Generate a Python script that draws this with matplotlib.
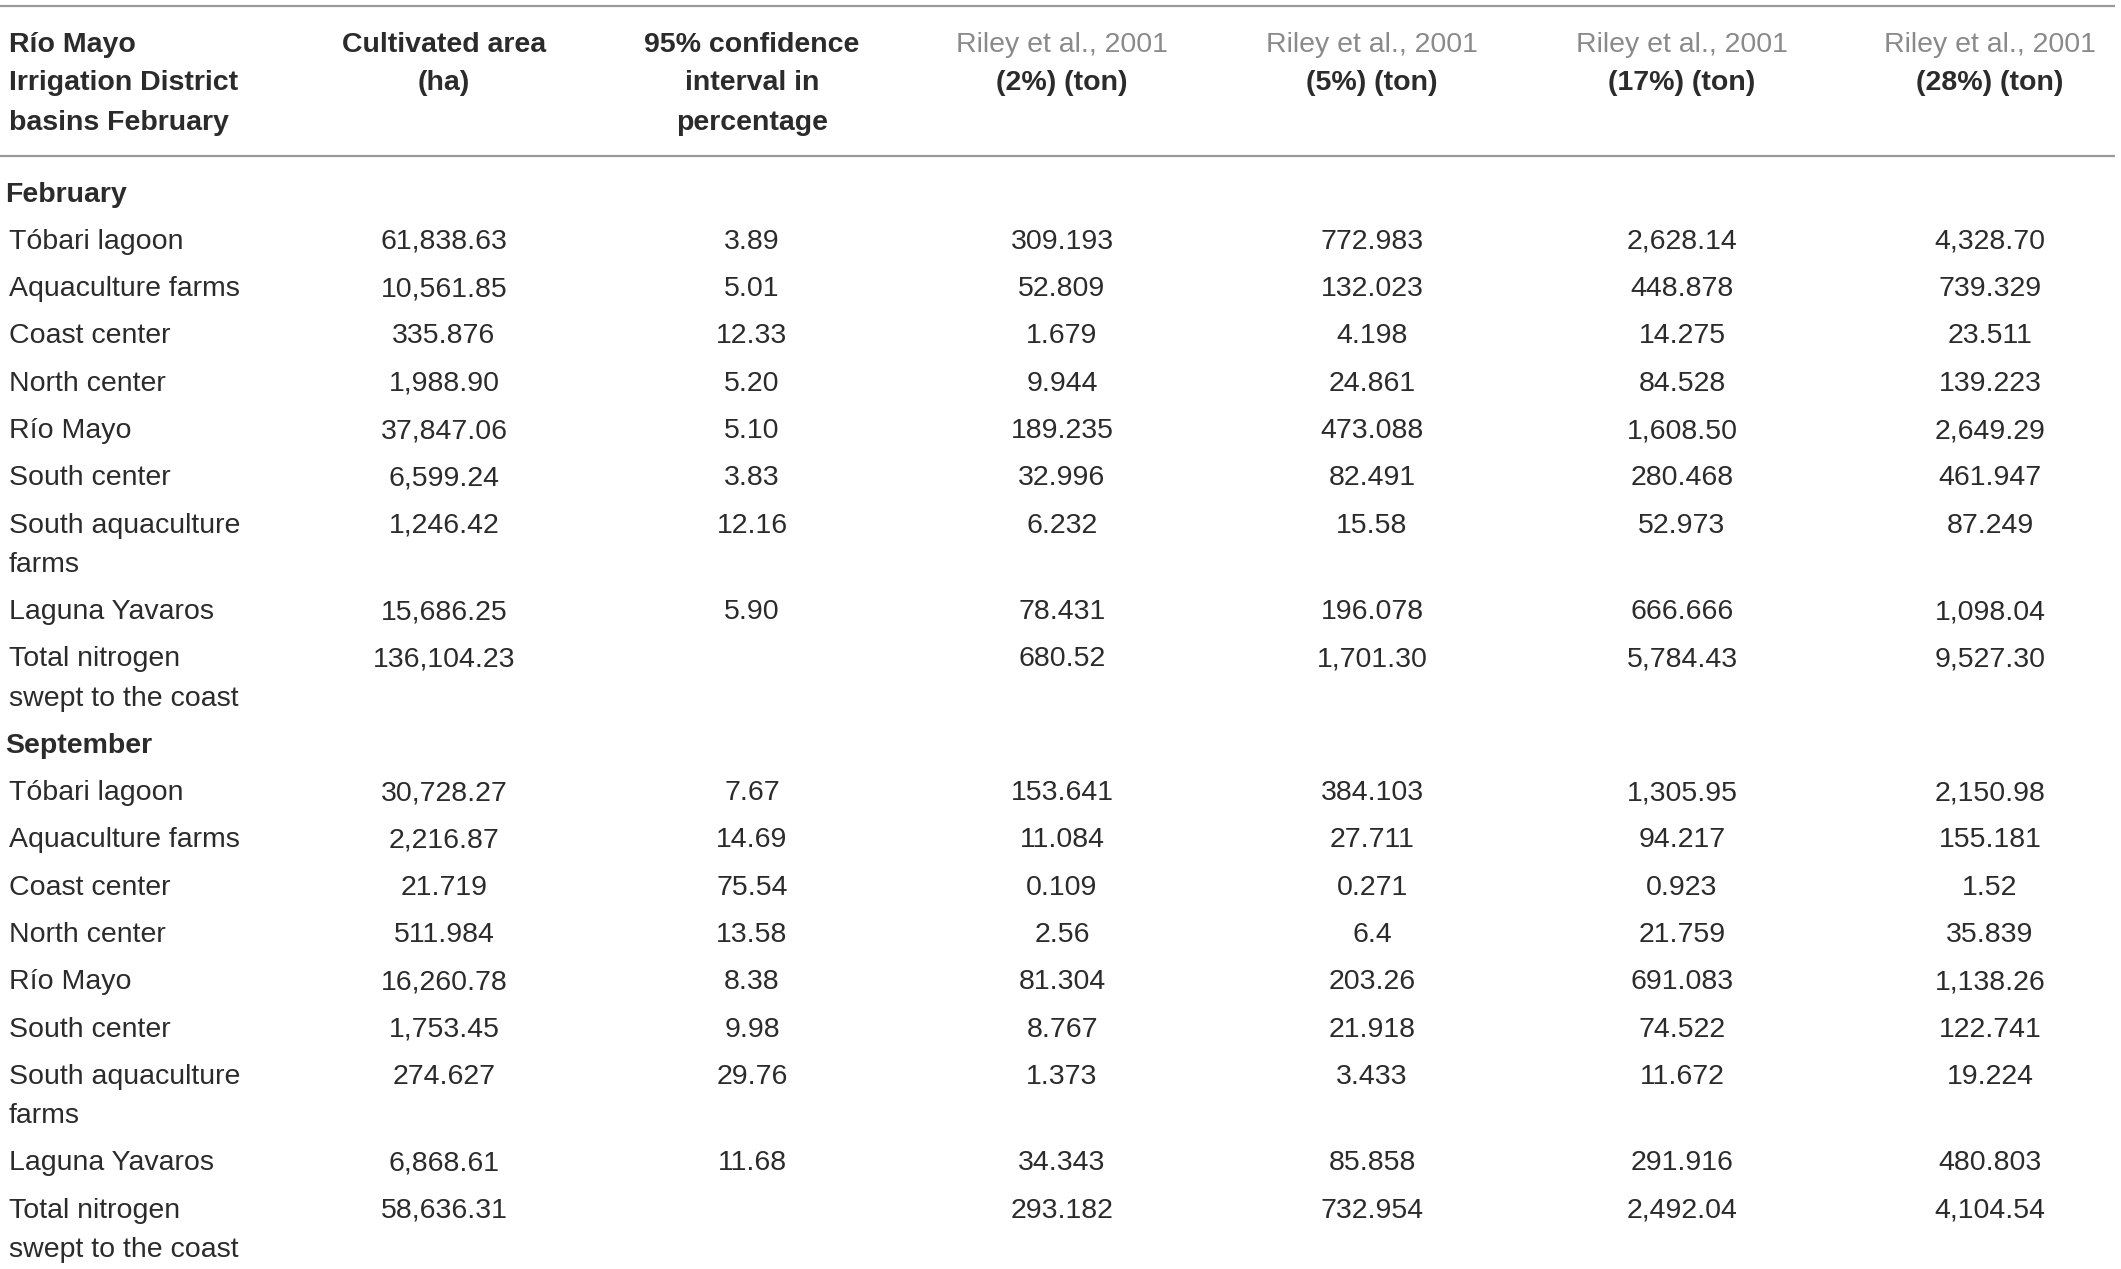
import matplotlib
matplotlib.use("Agg")
import matplotlib.pyplot as plt

# ---------------- data ----------------
header_col0 = ["Río Mayo", "Irrigation District", "basins February"]
header_col1 = ["Cultivated area", "(ha)"]
header_col2 = ["95% confidence", "interval in", "percentage"]
riley_ref = "Riley et al., 2001"
riley_pcts = ["(2%) (ton)", "(5%) (ton)", "(17%) (ton)", "(28%) (ton)"]

sections = ["February", "September"]
row_labels = [
    ["Tóbari lagoon"], ["Aquaculture farms"], ["Coast center"], ["North center"],
    ["Río Mayo"], ["South center"], ["South aquaculture", "farms"],
    ["Laguna Yavaros"], ["Total nitrogen", "swept to the coast"],
]

area_feb = ["61,838.63", "10,561.85", "335.876", "1,988.90", "37,847.06", "6,599.24", "1,246.42", "15,686.25", "136,104.23"]
ci_feb = ["3.89", "5.01", "12.33", "5.20", "5.10", "3.83", "12.16", "5.90", ""]
r2_feb = ["309.193", "52.809", "1.679", "9.944", "189.235", "32.996", "6.232", "78.431", "680.52"]
r5_feb = ["772.983", "132.023", "4.198", "24.861", "473.088", "82.491", "15.58", "196.078", "1,701.30"]
r17_feb = ["2,628.14", "448.878", "14.275", "84.528", "1,608.50", "280.468", "52.973", "666.666", "5,784.43"]
r28_feb = ["4,328.70", "739.329", "23.511", "139.223", "2,649.29", "461.947", "87.249", "1,098.04", "9,527.30"]

area_sep = ["30,728.27", "2,216.87", "21.719", "511.984", "16,260.78", "1,753.45", "274.627", "6,868.61", "58,636.31"]
ci_sep = ["7.67", "14.69", "75.54", "13.58", "8.38", "9.98", "29.76", "11.68", ""]
r2_sep = ["153.641", "11.084", "0.109", "2.56", "81.304", "8.767", "1.373", "34.343", "293.182"]
r5_sep = ["384.103", "27.711", "0.271", "6.4", "203.26", "21.918", "3.433", "85.858", "732.954"]
r17_sep = ["1,305.95", "94.217", "0.923", "21.759", "691.083", "74.522", "11.672", "291.916", "2,492.04"]
r28_sep = ["2,150.98", "155.181", "1.52", "35.839", "1,138.26", "122.741", "19.224", "480.803", "4,104.54"]

section_values = [
    [area_feb, ci_feb, r2_feb, r5_feb, r17_feb, r28_feb],
    [area_sep, ci_sep, r2_sep, r5_sep, r17_sep, r28_sep],
]

# ---------------- layout ----------------
W, H = 2121, 1269
fig = plt.figure(figsize=(W / 100, H / 100), dpi=100)
ax = fig.add_axes([0, 0, 1, 1])
ax.set_xlim(0, W)
ax.set_ylim(H, 0)
ax.axis("off")

FONT = "Liberation Sans"
FS = 20.5
TXT = "#2b2b2b"
GRAY = "#8a8a8a"
LINE = "#9a9a9a"

x_left = 9
col_x = [444, 752, 1062, 1372, 1682, 1990]
step = 47.3
wrap = 39.2
dy = 3.5

# rules
ax.plot([0, 2115], [6, 6], color=LINE, lw=1.6, solid_capstyle="butt")
ax.plot([0, 2115], [156, 156], color=LINE, lw=1.6, solid_capstyle="butt")

# header
hy = [41 + dy, 80 + dy, 119 + dy]
for i, t in enumerate(header_col0):
    ax.text(x_left, hy[i], t, ha="left", va="center", fontsize=FS, family=FONT,
            weight="bold", color=TXT)
for i, t in enumerate(header_col1):
    ax.text(col_x[0], hy[i], t, ha="center", va="center", fontsize=FS, family=FONT,
            weight="bold", color=TXT)
for i, t in enumerate(header_col2):
    ax.text(col_x[1], hy[i], t, ha="center", va="center", fontsize=FS, family=FONT,
            weight="bold", color=TXT)
for j, p in enumerate(riley_pcts):
    ax.text(col_x[2 + j], hy[0], riley_ref, ha="center", va="center", fontsize=FS,
            family=FONT, color=GRAY)
    ax.text(col_x[2 + j], hy[1], p, ha="center", va="center", fontsize=FS,
            family=FONT, weight="bold", color=TXT)

# body
y = 191 + dy
for s, sec in enumerate(sections):
    ax.text(5, y, sec, ha="left", va="center", fontsize=FS, family=FONT,
            weight="bold", color=TXT)
    y += step
    cols = section_values[s]
    for r, lab in enumerate(row_labels):
        for k, line in enumerate(lab):
            ax.text(x_left, y + k * wrap, line, ha="left", va="center", fontsize=FS,
                    family=FONT, color=TXT)
        for c, vals in enumerate(cols):
            if vals[r]:
                ax.text(col_x[c], y, vals[r], ha="center", va="center", fontsize=FS,
                        family=FONT, color=TXT)
        y += step + wrap * (len(lab) - 1)

fig.savefig("out.png", dpi=100, facecolor="white")
